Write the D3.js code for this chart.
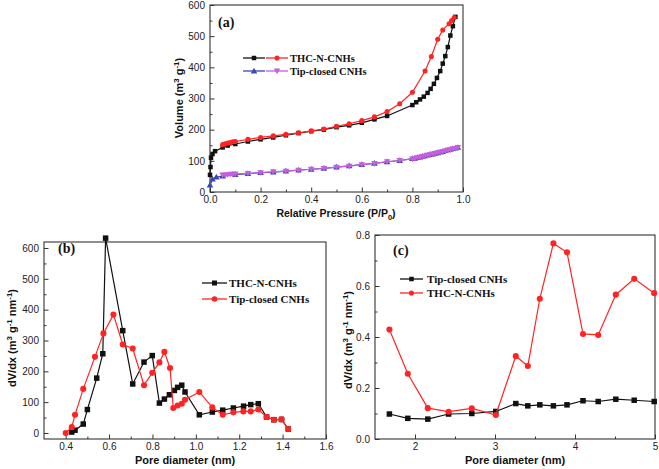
<!DOCTYPE html>
<html><head><meta charset="utf-8">
<script src="https://cdn.jsdelivr.net/npm/d3@7"></script>
<style>body{margin:0;background:#fff}svg{display:block}</style>
</head><body>
<svg id="c" width="659" height="469"></svg>
<script>
// ---------- DATA ----------
// Panel (a): N2 isotherms
const aThcAdsX = [0.0,0.002,0.004,0.01,0.02,0.05,0.07,0.1,0.15,0.2,0.25,0.3,0.35,0.4,0.45,0.5,0.55,0.6,0.65,0.7,0.8,0.815,0.83,0.845,0.86,0.872,0.885,0.897,0.91,0.92,0.93,0.94,0.95,0.96,0.97];
const aThcAdsY = [55,80,110,122,131,143,149,154,162,169,175,182,189,195,200,208,214,222,233,244,279,288,297,306,318,331,347,366,388,412,436,465,502,532,562];
const aThcDesX = [0.965,0.955,0.945,0.92,0.9,0.875,0.85,0.8,0.75,0.7,0.65,0.6,0.55,0.5,0.45,0.4,0.35,0.3,0.25,0.2,0.15,0.1,0.09,0.08,0.07,0.06,0.05];
const aThcDesY = [560,550,540,520,490,435,388,320,283,258,241,229,219,211,202,196,190,185,180,175,169,162,161,159,157,155,152];
const aTipAdsX = [0.0,0.01,0.025,0.05,0.1,0.15,0.2,0.25,0.3,0.35,0.4,0.45,0.5,0.55,0.6,0.65,0.7,0.75,0.8,0.81,0.82,0.83,0.84,0.85,0.86,0.87,0.88,0.89,0.9,0.91,0.92,0.93,0.94,0.95,0.96,0.97,0.98];
const aTipAdsY = [22,41,48,51,56,59,62,64,67,70,73,76,80,84,88,92,97,101,107,108,110,112,114,116,118,120,122,124,126,128,130,133,135,137,139,141,143];
const aTipDesX = [0.98,0.97,0.96,0.95,0.94,0.93,0.92,0.91,0.9,0.89,0.88,0.87,0.86,0.85,0.84,0.83,0.82,0.81,0.8,0.75,0.7,0.65,0.6,0.55,0.5,0.45,0.4,0.35,0.3,0.25,0.2,0.15,0.1,0.09,0.08,0.07,0.06,0.05];
const aTipDesY = [143,140,138,136,134,132,130,128,126,124,122,120,118,116,114,112,110,108,106,101,97,92,88,83,80,76,73,70,67,65,62,60,58,57,57,56,55,55];
const aXTicks = [0,0.2,0.4,0.6,0.8,1.0];
const aXTickLabels = ["0.0","0.2","0.4","0.6","0.8","1.0"];
const aYTicks = [0,100,200,300,400,500,600];
const aYTickLabels = ["0","100","200","300","400","500","600"];

// Panel (b): pore size distribution (micropores)
const bThcX = [0.428,0.443,0.481,0.500,0.543,0.571,0.584,0.663,0.709,0.761,0.799,0.832,0.855,0.878,0.901,0.916,0.935,0.950,1.016,1.076,1.124,1.173,1.220,1.253,1.288,1.326,1.360,1.395,1.426];
const bThcY = [3,9,29,76,178,257,632,332,159,230,251,97,110,124,138,148,155,133,59,68,74,81,87,92,95,52,43,44,13];
const bTipX = [0.400,0.428,0.443,0.481,0.535,0.574,0.620,0.663,0.709,0.761,0.799,0.832,0.855,0.881,0.896,0.916,0.935,0.950,1.016,1.076,1.124,1.173,1.219,1.253,1.288,1.326,1.360,1.395,1.426];
const bTipY = [0,19,59,143,247,323,384,287,274,155,195,229,263,211,81,89,95,108,133,83,59,67,70,70,76,52,43,44,13];
const bXTicks = [0.4,0.6,0.8,1.0,1.2,1.4,1.6];
const bXTickLabels = ["0.4","0.6","0.8","1.0","1.2","1.4","1.6"];
const bYTicks = [0,100,200,300,400,500,600];
const bYTickLabels = ["0","100","200","300","400","500","600"];

// Panel (c): pore size distribution (mesopores)
const cX = [1.68,1.91,2.16,2.42,2.71,3.01,3.26,3.41,3.56,3.73,3.90,4.10,4.29,4.51,4.74,4.99];
const cTipY = [0.098,0.081,0.078,0.098,0.100,0.108,0.139,0.130,0.134,0.130,0.134,0.150,0.147,0.156,0.152,0.147];
const cThcY = [0.429,0.256,0.121,0.107,0.120,0.094,0.325,0.286,0.550,0.767,0.732,0.412,0.408,0.566,0.628,0.572];
const cXTicks = [2,3,4,5];
const cXTickLabels = ["2","3","4","5"];
const cYTicks = [0,0.2,0.4,0.6,0.8];
const cYTickLabels = ["0.0","0.2","0.4","0.6","0.8"];

// ---------- DRAW ----------
const svg = d3.select("#c");
svg.append("rect").attr("width",659).attr("height",469).attr("fill","#fff");
const AX = "#333";
const BLACK = "#111", RED = "#ff2424", BLUE = "#3a48b0", MAG = "#c65fdc";

function marker(g, type, x, y, color, s) {
  if (type === "sq") g.append("rect").attr("x",x-s/2).attr("y",y-s/2).attr("width",s).attr("height",s).attr("fill",color);
  else if (type === "ci") g.append("circle").attr("cx",x).attr("cy",y).attr("r",s/2+0.3).attr("fill",color);
  else if (type === "tu") g.append("path").attr("d",d3.symbol(d3.symbolTriangle, s*s*0.75)()).attr("transform",`translate(${x},${y+0.5})`).attr("fill",color);
  else if (type === "td") g.append("path").attr("d",d3.symbol(d3.symbolTriangle, s*s*0.75)()).attr("transform",`translate(${x},${y-0.5}) rotate(180)`).attr("fill",color);
}

function panel(o) {
  const x = d3.scaleLinear().domain(o.xd).range(o.xr);
  const y = d3.scaleLinear().domain(o.yd).range(o.yr);
  const g = svg.append("g");
  g.append("g").attr("transform",`translate(0,${o.yr[0]})`)
    .call(d3.axisBottom(x).tickValues(o.xMinor).tickSize(-2.5).tickFormat(""))
    .call(s=>s.select(".domain").remove()).selectAll("line").attr("stroke",AX);
  g.append("g").attr("transform",`translate(${o.xr[0]},0)`)
    .call(d3.axisLeft(y).tickValues(o.yMinor).tickSize(-2.5).tickFormat(""))
    .call(s=>s.select(".domain").remove()).selectAll("line").attr("stroke",AX);
  const xa = g.append("g").attr("transform",`translate(0,${o.yr[0]})`)
    .call(d3.axisBottom(x).tickValues(o.xTicks).tickSize(-4.5).tickPadding(4)
      .tickFormat((d,i)=>o.xLabels[i]));
  const ya = g.append("g").attr("transform",`translate(${o.xr[0]},0)`)
    .call(d3.axisLeft(y).tickValues(o.yTicks).tickSize(-4.5).tickPadding(5)
      .tickFormat((d,i)=>o.yLabels[i]));
  [xa,ya].forEach(a=>{
    a.select(".domain").remove();
    a.selectAll("line").attr("stroke",AX);
    a.selectAll("text").attr("font-family","'Liberation Sans',Arial,sans-serif").attr("font-size",10).attr("fill","#222");
  });
  g.append("rect").attr("x",o.xr[0]).attr("y",o.yr[1]).attr("width",o.xr[1]-o.xr[0]).attr("height",o.yr[0]-o.yr[1])
    .attr("fill","none").attr("stroke",AX).attr("stroke-width",1.1);
  const line = d3.line().x(d=>x(d[0])).y(d=>y(d[1]));
  o.series.forEach(s=>{
    const pts = s.x.map((v,i)=>[v,s.y[i]]);
    g.append("path").datum(pts).attr("d",line).attr("fill","none").attr("stroke",s.color).attr("stroke-width",1.2);
    const mg = g.append("g");
    pts.forEach(p=>marker(mg, s.m, x(p[0]), y(p[1]), s.color, s.size));
  });
  return {x,y};
}

function sup(t, parts, fs) {
  parts.forEach(p=>{
    const ts = t.append("tspan").text(p[0]);
    if (p[1]==="sup") ts.attr("font-size",fs*0.72).attr("dy",-fs*0.4);
    else if (p[1]==="sub") ts.attr("font-size",fs*0.72).attr("dy",fs*0.3);
    else if (p[1]==="back") ts.attr("dy",fs*0.4);
    else if (p[1]==="up") ts.attr("dy",-fs*0.3);
  });
}

function axisTitle(x, y, rot, parts, fs) {
  fs = fs || 11;
  const t = svg.append("text").attr("font-family","'Liberation Sans',Arial,sans-serif").attr("font-weight","bold")
    .attr("font-size",fs).attr("fill","#111").attr("text-anchor","middle")
    .attr("transform",`translate(${x},${y}) rotate(${rot})`);
  sup(t, parts, fs);
}

function legend(rows, fs) {
  rows.forEach(r=>{
    const g = svg.append("g");
    r.segs.forEach(s=>{
      g.append("line").attr("x1",s.x1).attr("x2",s.x2).attr("y1",r.y).attr("y2",r.y).attr("stroke",s.color).attr("stroke-width",1.3);
      marker(g, s.m, (s.x1+s.x2)/2, r.y, s.color, s.size);
    });
    g.append("text").attr("x",r.tx).attr("y",r.y).attr("dy","0.35em")
      .attr("font-family","'Liberation Serif','Times New Roman',serif").attr("font-weight","bold")
      .attr("font-size",fs).attr("fill","#111").text(r.text);
  });
}

function plabel(x,y,t){
  svg.append("text").attr("x",x).attr("y",y).attr("font-family","'Liberation Serif','Times New Roman',serif")
    .attr("font-weight","bold").attr("font-size",14).attr("fill","#111").text(t);
}

// Panel (a)
panel({xd:[0,1], xr:[210,463], yd:[0,600], yr:[192,5],
  xTicks:aXTicks, xLabels:aXTickLabels, yTicks:aYTicks, yLabels:aYTickLabels,
  xMinor:[0.1,0.3,0.5,0.7,0.9], yMinor:[50,150,250,350,450,550],
  series:[
    {x:aTipAdsX, y:aTipAdsY, color:BLUE, m:"tu", size:5},
    {x:aTipDesX, y:aTipDesY, color:MAG, m:"td", size:5},
    {x:aThcAdsX, y:aThcAdsY, color:BLACK, m:"sq", size:4.5},
    {x:aThcDesX, y:aThcDesY, color:RED, m:"ci", size:4.5}
  ]});
axisTitle(336, 217, 0, [["Relative Pressure (P/P"],["0","sub"],[")","up"]], 10.5);
axisTitle(183, 98, -90, [["Volume (m"],["3","sup"],[" g","back"],["-1","sup"],[")","back"]]);
plabel(218, 27, "(a)");
legend([
  {y:58, tx:290, text:"THC-N-CNHs", segs:[{x1:243,x2:265,color:BLACK,m:"sq",size:4.5},{x1:266,x2:288,color:RED,m:"ci",size:4.5}]},
  {y:71, tx:290, text:"Tip-closed CNHs", segs:[{x1:243,x2:265,color:BLUE,m:"tu",size:5},{x1:266,x2:288,color:MAG,m:"td",size:5}]}
], 10.5);

// Panel (b)
panel({xd:[0.3,1.6], xr:[44,326], yd:[-19.5,619.5], yr:[439,242],
  xTicks:bXTicks, xLabels:bXTickLabels, yTicks:bYTicks, yLabels:bYTickLabels,
  xMinor:[0.5,0.7,0.9,1.1,1.3,1.5], yMinor:[50,150,250,350,450,550],
  series:[
    {x:bThcX, y:bThcY, color:BLACK, m:"sq", size:5.5},
    {x:bTipX, y:bTipY, color:RED, m:"ci", size:5.5}
  ]});
axisTitle(185, 464, 0, [["Pore diameter (nm)"]]);
axisTitle(16, 338, -90, [["dV/dx (m"],["3","sup"],[" g","back"],["-1","sup"],[" nm","back"],["-1","sup"],[")","back"]]);
plabel(58, 253, "(b)");
legend([
  {y:283, tx:229, text:"THC-N-CNHs", segs:[{x1:202,x2:227,color:BLACK,m:"sq",size:5}]},
  {y:299, tx:229, text:"Tip-closed CNHs", segs:[{x1:202,x2:227,color:RED,m:"ci",size:5}]}
], 11);

// Panel (c)
panel({xd:[1.5,5], xr:[375,655], yd:[0,0.8], yr:[439,235],
  xTicks:cXTicks, xLabels:cXTickLabels, yTicks:cYTicks, yLabels:cYTickLabels,
  xMinor:[2.5,3.5,4.5], yMinor:[0.1,0.3,0.5,0.7],
  series:[
    {x:cX, y:cTipY, color:BLACK, m:"sq", size:5.5},
    {x:cX, y:cThcY, color:RED, m:"ci", size:5.5}
  ]});
axisTitle(515, 464, 0, [["Pore diameter (nm)"]]);
axisTitle(352, 340, -90, [["dV/dx (m"],["3","sup"],[" g","back"],["-1","sup"],[" nm","back"],["-1","sup"],[")","back"]]);
plabel(393, 255, "(c)");
legend([
  {y:279, tx:427, text:"Tip-closed CNHs", segs:[{x1:400,x2:423,color:BLACK,m:"sq",size:4.5}]},
  {y:293, tx:427, text:"THC-N-CNHs", segs:[{x1:400,x2:423,color:RED,m:"ci",size:4.5}]}
], 11);
</script>
</body></html>
